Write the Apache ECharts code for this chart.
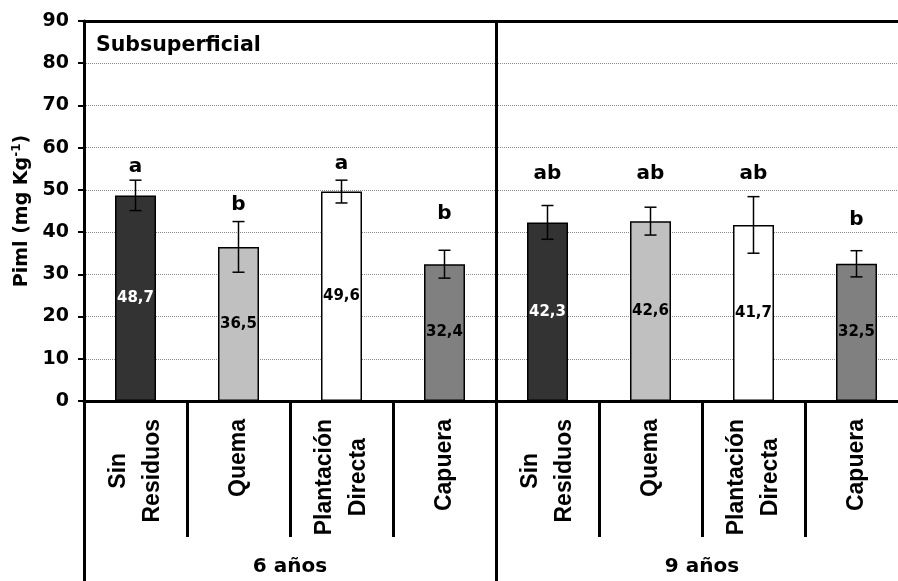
<!DOCTYPE html>
<html><head><meta charset="utf-8">
<script src="https://cdn.jsdelivr.net/npm/echarts@6/dist/echarts.min.js"></script>
<style>html,body{margin:0;padding:0;background:#fff}#c{width:898px;height:581px}</style>
</head><body><div id="c"></div>
<script>
// ---- data ----
const categories = ['Sin\nResiduos', 'Quema', 'Plantación\nDirecta', 'Capuera',
                    'Sin\nResiduos', 'Quema', 'Plantación\nDirecta', 'Capuera'];
const groups = ['6 años', '9 años'];
const values = [48.7, 36.5, 49.6, 32.4, 42.3, 42.6, 41.7, 32.5];
const errors = [3.6, 6.0, 2.7, 3.3, 4.0, 3.3, 6.7, 3.1];
const letters = ['a', 'b', 'a', 'b', 'ab', 'ab', 'ab', 'b'];
const letterHeights = [55.5, 46.4, 56.1, 44.3, 53.8, 53.8, 53.8, 42.9];
const yTicks = [0, 10, 20, 30, 40, 50, 60, 70, 80, 90];
const panelTitle = 'Subsuperficial';
const yTitle = 'Piml (mg Kg{sup|-1})';

// ---- styles ----
const barColors = ['#333333', '#c0c0c0', '#ffffff', '#808080'];
const valueLabelColors = ['#ffffff', '#000000', '#000000', '#000000'];
const F = 'DejaVu Sans';
const FA = 'Liberation Sans';

const chart = echarts.init(document.getElementById('c'), null, {renderer: 'canvas'});
const fmt = v => v.toFixed(1).replace('.', ',');

chart.setOption({
  animation: false,
  backgroundColor: '#ffffff',
  title: {
    text: panelTitle, left: 96, top: 35, padding: 0,
    textStyle: {fontFamily: F, fontWeight: 'bold', fontSize: 20.5, color: '#000'}
  },
  grid: {left: 84, width: 824, top: 21, bottom: 180, containLabel: false, outerBoundsMode: 'none'},
  xAxis: [
    {
      type: 'category', data: categories, position: 'bottom',
      axisLine: {show: true, lineStyle: {color: '#000', width: 3}},
      axisTick: {show: true, interval: 0, length: 136, lineStyle: {color: '#000', width: 3}},
      axisLabel: {
        interval: 0, rotate: 90, margin: 18,
        fontFamily: FA, fontWeight: 'bold', fontSize: 23, color: '#000', lineHeight: 34,
        formatter: v => v.split('\n').map(l => '{c|' + l + '}').join('\n'),
        rich: {c: {align: 'center', fontFamily: FA, fontWeight: 'bold', fontSize: 23, lineHeight: 34, color: '#000'}}
      },
      splitLine: {show: false}
    },
    {
      type: 'category', data: groups, position: 'bottom',
      axisLine: {show: false},
      axisTick: {show: true, interval: 0, length: 180, lineStyle: {color: '#000', width: 3}},
      axisLabel: {interval: 0, margin: 156, fontFamily: F, fontWeight: 'bold', fontSize: 20, color: '#000'},
      splitLine: {show: true, interval: 0, lineStyle: {color: '#000', width: 3}}
    },
    {
      type: 'category', data: categories, position: 'top',
      axisLine: {show: true, lineStyle: {color: '#000', width: 3}},
      axisTick: {show: false}, axisLabel: {show: false}, splitLine: {show: false}
    }
  ],
  yAxis: {
    type: 'value', min: 0, max: 90, interval: 10,
    axisLine: {show: true, lineStyle: {color: '#000', width: 3}},
    axisTick: {show: true, length: 6, lineStyle: {color: '#000', width: 2}},
    axisLabel: {
      margin: 15, fontFamily: F, fontWeight: 'bold', fontSize: 19, color: '#000',
      formatter: v => yTicks.includes(v) ? String(v) : ''
    },
    splitLine: {show: true, lineStyle: {color: '#8a8a8a', type: 'dotted', width: 1}},
    name: yTitle, nameLocation: 'middle', nameGap: 45,
    nameTextStyle: {
      fontFamily: F, fontWeight: 'bold', fontSize: 19, color: '#000',
      rich: {sup: {fontFamily: F, fontWeight: 'bold', fontSize: 12, color: '#000', padding: [0, 0, 10, 0]}}
    }
  },
  series: [
    {
      type: 'bar', xAxisIndex: 0, barWidth: 41,
      data: values.map((v, i) => ({
        value: v,
        itemStyle: {color: barColors[i % 4]},
        label: {color: valueLabelColors[i % 4]}
      })),
      itemStyle: {borderColor: '#000', borderWidth: 1.5},
      label: {
        show: true, position: 'inside',
        fontFamily: F, fontWeight: 'bold', fontSize: 15,
        formatter: p => fmt(p.value)
      },
      z: 2
    },
    {
      type: 'custom', xAxisIndex: 0, z: 3,
      data: values.map((v, i) => [i, v, errors[i]]),
      encode: {x: 0, y: 1},
      renderItem: (params, api) => {
        const x = api.value(0), v = api.value(1), e = api.value(2);
        const t = api.coord([x, v + e]);
        const b = api.coord([x, v - e]);
        const hw = 6;
        const st = {stroke: '#000', lineWidth: 1.5};
        return {
          type: 'group', children: [
            {type: 'line', shape: {x1: t[0], y1: t[1], x2: b[0], y2: b[1]}, style: st},
            {type: 'line', shape: {x1: t[0] - hw, y1: t[1], x2: t[0] + hw, y2: t[1]}, style: st},
            {type: 'line', shape: {x1: b[0] - hw, y1: b[1], x2: b[0] + hw, y2: b[1]}, style: st}
          ]
        };
      }
    },
    {
      type: 'scatter', xAxisIndex: 0, z: 4,
      symbolSize: 1, itemStyle: {color: 'rgba(0,0,0,0)', opacity: 1},
      data: letterHeights.map((h, i) => [i, h]),
      label: {
        show: true, position: 'inside', opacity: 1,
        fontFamily: F, fontWeight: 'bold', fontSize: 20, color: '#000',
        formatter: p => letters[p.dataIndex]
      }
    }
  ]
});
</script></body></html>
